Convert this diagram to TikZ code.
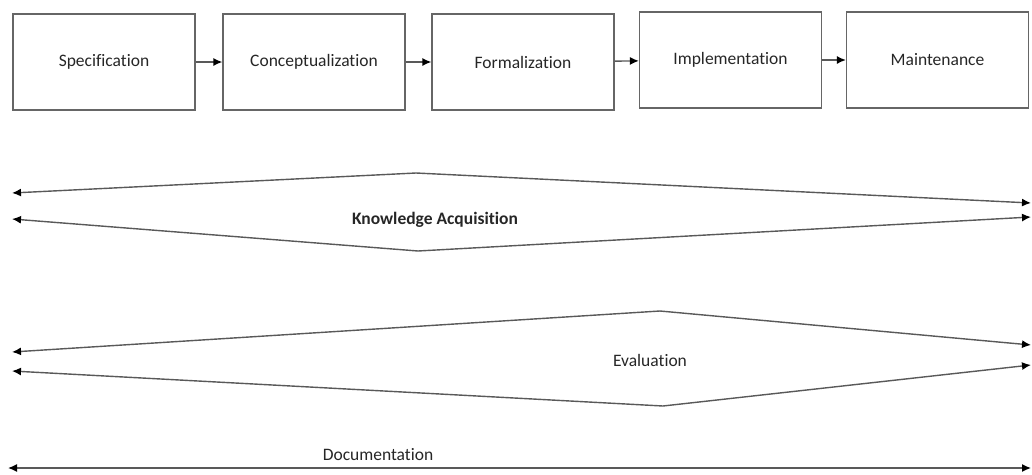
\documentclass[tikz,border=0pt]{standalone}
\usepackage{fontspec}
\setmainfont{Carlito}[Ligatures=NoCommon]
\usetikzlibrary{arrows.meta}

\begin{document}
\begin{tikzpicture}[x=1pt,y=-1pt,
		stage/.style={draw=black!60,line width=1.2pt,minimum width=182pt,minimum height=96pt,inner sep=0pt,text=black!85,font=\fontsize{17.5}{20}\selectfont},
		lbl/.style={text=black!85,font=\fontsize{17.5}{20}\selectfont,inner sep=0pt},
		flow/.style={draw=black!65,line width=1.4pt,-{Latex[length=9pt,width=8pt,black]}},
		span/.style={draw=black!65,line width=1.4pt,{Latex[length=9pt,width=8pt,black]}-{Latex[length=9pt,width=8pt,black]}}]
		\useasboundingbox (0,0) rectangle (1032,474);
		% stages
		\node[stage] (spec) at (104,62) {Specification};
		\node[stage] (conc) at (314,62) {Conceptualization};
		\node[stage] (form) at (523,62) {Formalization};
		\node[stage] (impl) at (730.5,60) {Implementation};
		\node[stage] (main) at (937.5,60) {Maintenance};
		\path[flow]
		(spec) edge (conc)
		(conc) edge (form)
		(form) edge (impl)
		(impl) edge (main);
		% knowledge acquisition
		\coordinate (ka-l1) at (12,193);
		\coordinate (ka-l2) at (12,219);
		\coordinate (ka-t) at (416,173);
		\coordinate (ka-b) at (418,251);
		\coordinate (ka-r1) at (1031,203);
		\coordinate (ka-r2) at (1031,217);
		\draw[span] (ka-l1) -- (ka-t) -- (ka-r1);
		\draw[span] (ka-l2) -- (ka-b) -- (ka-r2);
		\node[lbl] (ka) at (435,220) {\textbf{Knowledge Acquisition}};
		% evaluation
		\coordinate (ev-l1) at (12,352);
		\coordinate (ev-l2) at (12,371);
		\coordinate (ev-t) at (660,311);
		\coordinate (ev-b) at (663,406);
		\coordinate (ev-r1) at (1031,345);
		\coordinate (ev-r2) at (1031,365);
		\draw[span] (ev-l1) -- (ev-t) -- (ev-r1);
		\draw[span] (ev-l2) -- (ev-b) -- (ev-r2);
		\node[lbl] (ev) at (650,360) {Evaluation};
		% documentation
		\coordinate (doc-l) at (8,468);
		\coordinate (doc-r) at (1031,468);
		\draw[span] (doc-l) -- (doc-r);
		\node[lbl] (doc) at (378,455) {Documentation};
\end{tikzpicture}
\end{document}
